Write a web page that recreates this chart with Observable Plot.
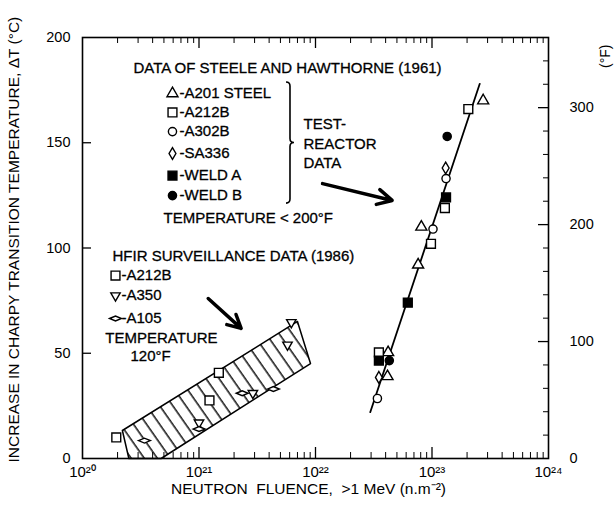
<!DOCTYPE html>
<html><head><meta charset="utf-8">
<script src="https://cdn.jsdelivr.net/npm/d3@7"></script>
<script src="https://cdn.jsdelivr.net/npm/@observablehq/plot@0.6"></script>
<style>
body{margin:0;background:#fff;}
svg{font-family:"Liberation Sans",Arial,sans-serif;}
</style>
</head><body><div id="chart"></div>
<script>
// ---- tick values ----
const xTicks = [1e20, 1e21, 1e22, 1e23, 1e24];
const yTicks = [0, 50, 100, 150, 200];
const fMajorTicks = [0, 100, 200, 300];
const fMinorTicks = [20, 40, 60, 80, 120, 140, 160, 180, 220, 240, 260, 280, 320, 340];

// ---- test-reactor data (Steele and Hawthorne 1961): [fluence n/m2, dT degC] ----
const A201 = [[2.75e23,170],[8.1e22,110],[7.6e22,92],[4.2e22,50.4],[4.15e22,39]];
const A212B = [[2.05e23,166],[1.29e23,119],[9.8e22,102],[3.5e22,50.4]];
const A302B = [[1.32e23,133],[1.02e23,109],[3.4e22,28.5]];
const SA336 = [[1.31e23,138],[3.5e22,38.5]];
const weldA = [[1.32e23,124],[6.2e22,74],[3.5e22,46.5]];
const weldB = [[1.35e23,153],[4.3e22,46.5]];
const fitLine = [[2.95e22,22],[2.57e23,178]];

// ---- HFIR surveillance data (1986) ----
const hfirA212B = [[1.95e20,10],[1.23e21,27.6],[1.48e21,40.7]];
const hfirA350 = [[1.0e21,17],[2.9e21,31],[5.75e21,54],[6.2e21,64.7]];
const hfirA105 = [[3.4e20,8.5],[1.0e21,14],[2.35e21,31],[4.35e21,33]];
const band = [[2.2e20,13.3],[7.0e21,65.1],[9.06e21,45.1],[4.73e20,0],[2.5e20,0],[2.2e20,13.3]];

// ---- annotation texts ----
const steeleLegend = ["-A201 STEEL","-A212B","-A302B","-SA336","-WELD A","-WELD B"];
const hfirLegend = ["-A212B","-A350","-A105"];
const noteTexts = ["DATA OF STEELE AND HAWTHORNE (1961)","TEST-","REACTOR","DATA",
  "TEMPERATURE < 200°F","HFIR SURVEILLANCE DATA (1986)","TEMPERATURE","120°F"];

// ---- annotation layout (data coordinates) ----
const steeleLegendY = [173.4,164.4,155.3,144.9,134.4,124.9];
const hfirLegendY = [86.9,77.4,66.5];
const noteX = [2.74e20,7.89e21,7.89e21,7.89e21,4.96e20,1.81e20,1.57e20,2.58e20];
const noteY = [185.3,158.7,149.2,140.1,114,96,57,48.5];
const arrows = [
  {x1:1.15e22, y1:130.6, x2:4.55e22, y2:122.6},
  {x1:1.2e21, y1:76, x2:2.3e21, y2:61.8}
];
const brace = {x:6.1e21, top:178.6, bottom:121.1};
const legendX = 5.92e20, legendTextX = 6.8e20;
const hLegendX = 1.92e20, hLegendTextX = 2.16e20;

// ---- symbols ----
const triDown = {draw(ctx, size){const r=Math.sqrt(size/Math.PI);const a=r*2.3,h=a*0.866;
  ctx.moveTo(-a/2,-h/3);ctx.lineTo(a/2,-h/3);ctx.lineTo(0,2*h/3);ctx.closePath();}};
const flatDiamond = {draw(ctx, size){const r=Math.sqrt(size/Math.PI);const w=r*1.45,h=r*0.6;
  ctx.moveTo(-w,0);ctx.lineTo(0,-h);ctx.lineTo(w,0);ctx.lineTo(0,h);ctx.closePath();}};

const W = 616, H = 521, mL = 82, mR = 68, mT = 37, mB = 63;
const innerW = W - mL - mR, innerH = H - mT - mB;

const sup = {"0":"⁰","1":"¹","2":"²","3":"³","4":"⁴"};
const fmtX = d => "10" + String(Math.round(Math.log10(d))).split("").map(c => sup[c]).join("");
const xMinor = d3.scaleLog().domain([1e20,1e24]).ticks().filter(d => !xTicks.includes(d));

const dotOpts = (symbol, r, filled) => ({x: d => d[0], y: d => d[1], symbol, r,
  fill: filled ? "black" : "white", stroke: "black", strokeWidth: 1.4});
const sym = [["triangle",4.1,false],["square",5,false],["circle",4.1,false],["diamond",3.6,false],["square",5,true],["circle",4.1,true]];
const hsym = [["square",5,false],[triDown,4.1,false],[flatDiamond,4.1,false]];
const txt = {textAnchor: "start", fontSize: 15, fill: "black", stroke: "black", strokeWidth: 0.3};

const chart = Plot.plot({
  width: W, height: H,
  marginLeft: mL, marginRight: mR, marginTop: mT, marginBottom: mB,
  style: {fontFamily: "Liberation Sans, Arial, sans-serif", fontSize: "12px", background: "white", overflow: "visible", color: "black"},
  x: {type: "log", domain: [1e20, 1e24]},
  y: {domain: [0, 200]},
  marks: [
    Plot.line(band, {x: d => d[0], y: d => d[1], fill: "url(#hatch)", stroke: "black", strokeWidth: 1.5}),
    Plot.line(fitLine, {x: d => d[0], y: d => d[1], stroke: "black", strokeWidth: 1.8}),
    Plot.tickY(yTicks.slice(1, -1), {y: d => d, insetRight: innerW - 9, strokeWidth: 1.3}),
    Plot.tickY(fMajorTicks.slice(1).map(f => f / 1.8), {y: d => d, insetLeft: innerW - 10, strokeWidth: 1.3}),
    Plot.tickY(fMinorTicks.map(f => f / 1.8), {y: d => d, insetLeft: innerW - 5, strokeWidth: 1}),
    Plot.tickX(xTicks.slice(1, -1), {x: d => d, insetTop: innerH - 11, strokeWidth: 1.3}),
    Plot.tickX(xMinor, {x: d => d, insetTop: innerH - 6, strokeWidth: 1}),
    Plot.tickX(xTicks.slice(1, -1), {x: d => d, insetBottom: innerH - 11, strokeWidth: 1.3}),
    Plot.tickX(xMinor, {x: d => d, insetBottom: innerH - 6, strokeWidth: 1}),
    Plot.frame({stroke: "black", strokeWidth: 1.6}),
    Plot.axisX(xTicks, {anchor: "bottom", tickSize: 0, tickPadding: 8, tickFormat: fmtX, fontSize: 15, label: null}),
    Plot.axisY(yTicks, {anchor: "left", tickSize: 0, tickPadding: 12, fontSize: 14.5, label: null}),
    Plot.axisY(fMajorTicks.map(f => f / 1.8), {anchor: "right", tickSize: 0, tickPadding: 21, fontSize: 14.5,
      tickFormat: d => String(Math.round(d * 1.8)), label: null}),
    Plot.text(["INCREASE IN CHARPY TRANSITION TEMPERATURE, ΔT (°C)"], {frameAnchor: "bottom-left", rotate: -90,
      textAnchor: "start", dx: -64, dy: 4, fontSize: 15.5, fill: "black"}),
    Plot.text(["NEUTRON  FLUENCE,  >1 MeV (n.m⁻²)"], {frameAnchor: "bottom", dx: -7, dy: 35, fontSize: 15.5, fill: "black"}),
    Plot.text(["(°F)"], {frameAnchor: "top-right", rotate: -90, dx: 52, dy: 7, fontSize: 14, fill: "black"}),
    Plot.arrow(arrows, {x1: "x1", y1: "y1", x2: "x2", y2: "y2", stroke: "black", strokeWidth: 3.5, headLength: 7, headAngle: 55}),
    (index, {x, y}) => {
      const bx = x(brace.x), y0 = y(brace.top), y1 = y(brace.bottom), ym = (y0 + y1) / 2, w = 4;
      return d3.create("svg:path")
        .attr("d", `M${bx-w},${y0} Q${bx},${y0} ${bx},${y0+w} L${bx},${ym-w} Q${bx},${ym} ${bx+w},${ym} Q${bx},${ym} ${bx},${ym+w} L${bx},${y1-w} Q${bx},${y1} ${bx-w},${y1}`)
        .attr("fill", "none").attr("stroke", "black").attr("stroke-width", 1.6).node();
    },
    Plot.text(noteTexts, {x: (d, i) => noteX[i], y: (d, i) => noteY[i], text: d => d, ...txt}),
    Plot.text(steeleLegend, {x: legendTextX, y: (d, i) => steeleLegendY[i], text: d => d, ...txt}),
    Plot.text(hfirLegend, {x: hLegendTextX, y: (d, i) => hfirLegendY[i], text: d => d, ...txt}),
    ...sym.map(([s, r, f], i) => Plot.dot([[legendX, steeleLegendY[i]]], dotOpts(s, r, f))),
    ...hsym.map(([s, r, f], i) => Plot.dot([[hLegendX, hfirLegendY[i]]], dotOpts(s, r, f))),
    Plot.dot(A201, dotOpts("triangle", 4.1, false)),
    Plot.dot(A212B, dotOpts("square", 5, false)),
    Plot.dot(A302B, dotOpts("circle", 4.1, false)),
    Plot.dot(SA336, dotOpts("diamond", 3.6, false)),
    Plot.dot(weldA, dotOpts("square", 5, true)),
    Plot.dot(weldB, dotOpts("circle", 4.1, true)),
    Plot.dot(hfirA212B, dotOpts("square", 5, false)),
    Plot.dot(hfirA350, dotOpts(triDown, 4.1, false)),
    Plot.dot(hfirA105, dotOpts(flatDiamond, 4.1, false))
  ]
});

const defs = d3.select(chart).insert("defs", ":first-child");
const pat = defs.append("pattern").attr("id", "hatch").attr("patternUnits", "userSpaceOnUse")
  .attr("width", 10.7).attr("height", 10.7).attr("patternTransform", "rotate(-35)");
pat.append("rect").attr("width", 10.7).attr("height", 10.7).attr("fill", "white");
pat.append("line").attr("x1", 5).attr("y1", -1).attr("x2", 5).attr("y2", 12).attr("stroke", "black").attr("stroke-width", 1.4);

document.getElementById("chart").appendChild(chart);
</script>
</body></html>
